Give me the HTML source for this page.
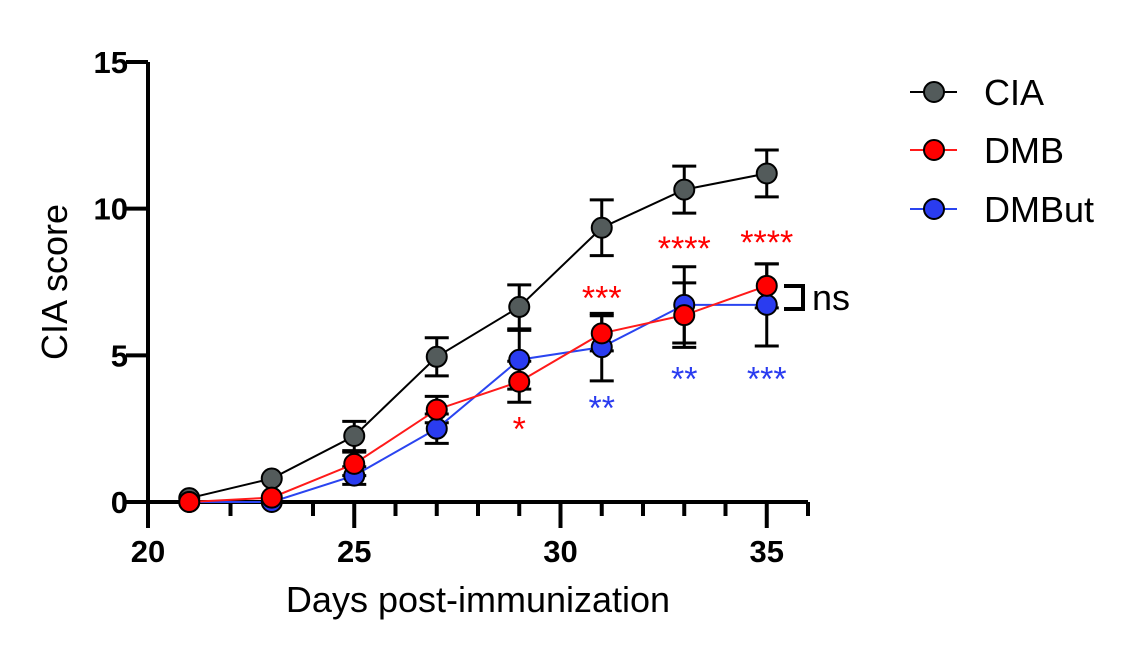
<!DOCTYPE html>
<html><head><meta charset="utf-8"><style>
html,body{margin:0;padding:0;background:#fff;}
svg text{font-family:"Liberation Sans",Arial,sans-serif;}
</style></head><body>
<svg id="chart" width="1125" height="651" viewBox="0 0 1125 651" xmlns="http://www.w3.org/2000/svg"></svg>
<script>
const days=[21,23,25,27,29,31,33,35];
const ciaMean=[0.13,0.8,2.25,4.95,6.65,9.35,10.65,11.2];
const ciaErr=[0.05,0.1,0.5,0.65,0.75,0.95,0.8,0.8];
const dmbMean=[0.0,0.15,1.3,3.15,4.1,5.75,6.37,7.37];
const dmbErr=[0,0.05,0.4,0.45,0.7,0.6,1.1,0.75];
const dmbutMean=[0.0,0.0,0.9,2.5,4.85,5.28,6.72,6.72];
const dmbutErr=[0,0,0.3,0.5,1.0,1.15,1.3,1.4];
const xTicks=[20,25,30,35];
const xMinorTicks=[22,24,26,27,28,29,31,32,33,34,36];
const yTicks=[0,5,10,15];
const dmbStars=[[29,'*',2.65],[31,'***',7.1],[33,'****',8.8],[35,'****',9.0]];
const dmbutStars=[[31,'**',3.35],[33,'**',4.35],[35,'***',4.35]];
const seriesNames=['CIA','DMB','DMBut'];

const svg=document.getElementById('chart');
const NS='http://www.w3.org/2000/svg';
const X0=148,X1=808,XMIN=20,XMAX=36,Y0=502,Y1=62,YMIN=0,YMAX=15;
const xs=v=>X0+(v-XMIN)/(XMAX-XMIN)*(X1-X0);
const ys=v=>Y0-(v-YMIN)/(YMAX-YMIN)*(Y0-Y1);
function mk(tag,attrs,parent){const e=document.createElementNS(NS,tag);for(const k in attrs)e.setAttribute(k,attrs[k]);(parent||svg).appendChild(e);return e;}

const ax=mk('g',{});


mk('line',{x1:X0,y1:Y0,x2:X1,y2:Y0,stroke:'#000','stroke-width':4},ax);
mk('line',{x1:X0,y1:Y0+2,x2:X0,y2:Y1,stroke:'#000','stroke-width':4},ax);
xTicks.forEach(d=>mk('line',{x1:xs(d),y1:Y0,x2:xs(d),y2:Y0+26,stroke:'#000','stroke-width':4},ax));
xMinorTicks.forEach(d=>mk('line',{x1:xs(d),y1:Y0,x2:xs(d),y2:Y0+14,stroke:'#000','stroke-width':4},ax));
xTicks.forEach(t=>{const e=mk('text',{x:xs(t),y:Y0+60,'text-anchor':'middle','font-size':31,'font-weight':'bold'},ax);e.textContent=t;

});
yTicks.forEach(t=>{mk('line',{x1:X0-22,y1:ys(t),x2:X0,y2:ys(t),stroke:'#000','stroke-width':4},ax);
const e=mk('text',{x:X0-20,y:ys(t)+11,'text-anchor':'end','font-size':31,'font-weight':'bold'},ax);e.textContent=t;

});
const xt=mk('text',{x:478,y:612,'text-anchor':'middle','font-size':36});xt.textContent='Days post-immunization';


const yt=mk('text',{x:67,y:282,'text-anchor':'middle','font-size':36,transform:'rotate(-90 67 282)'});yt.textContent='CIA score';



const series=[{m:ciaMean,e:ciaErr,line:'#000',fill:'#535b5b'},{m:dmbMean,e:dmbErr,line:'#ff1a1a',fill:'#ff0000'},{m:dmbutMean,e:dmbutErr,line:'#2a44f0',fill:'#2a3cf0'}];
series.forEach((s,si)=>{const g=mk('g',{});


days.forEach((d,i)=>{if(s.e[i]<0.2)return;const x=xs(d),t=ys(s.m[i]+s.e[i]),b=ys(s.m[i]-s.e[i]);
mk('line',{x1:x,y1:t,x2:x,y2:b,stroke:'#000','stroke-width':3},g);
mk('line',{x1:x-12,y1:t,x2:x+12,y2:t,stroke:'#000','stroke-width':3},g);
mk('line',{x1:x-12,y1:b,x2:x+12,y2:b,stroke:'#000','stroke-width':3},g);});});
[0,2,1].forEach(si=>{const s=series[si];const g=mk('g',{});


mk('polyline',{points:days.map((d,i)=>xs(d)+','+ys(s.m[i])).join(' '),fill:'none',stroke:s.line,'stroke-width':2},g);
days.forEach((d,i)=>{const c=mk('circle',{cx:xs(d),cy:ys(s.m[i]),r:10,fill:s.fill,stroke:'#000','stroke-width':2},g);

});});
dmbStars.forEach(([d,t,v])=>{const e=mk('text',{x:xs(d),y:ys(v)+16,'text-anchor':'middle','font-size':34,fill:'#ff0000'});e.textContent=t;

});
dmbutStars.forEach(([d,t,v])=>{const e=mk('text',{x:xs(d),y:ys(v)+16,'text-anchor':'middle','font-size':34,fill:'#2a3cf0'});e.textContent=t;

});
const br=mk('polyline',{points:'784,286 803,286 803,309 784,309',fill:'none',stroke:'#000','stroke-width':4});


const ns=mk('text',{x:812,y:310,'font-size':36});ns.textContent='ns';


const lg=mk('g',{});


[92,150,209].forEach((y,i)=>{const s=series[i];
mk('line',{x1:910,y1:y,x2:957,y2:y,stroke:s.line,'stroke-width':2},lg);
mk('circle',{cx:934,cy:y,r:10,fill:s.fill,stroke:'#000','stroke-width':2},lg);
const e=mk('text',{x:984,y:y+13,'font-size':36},lg);e.textContent=seriesNames[i];

});
</script>
</body></html>
